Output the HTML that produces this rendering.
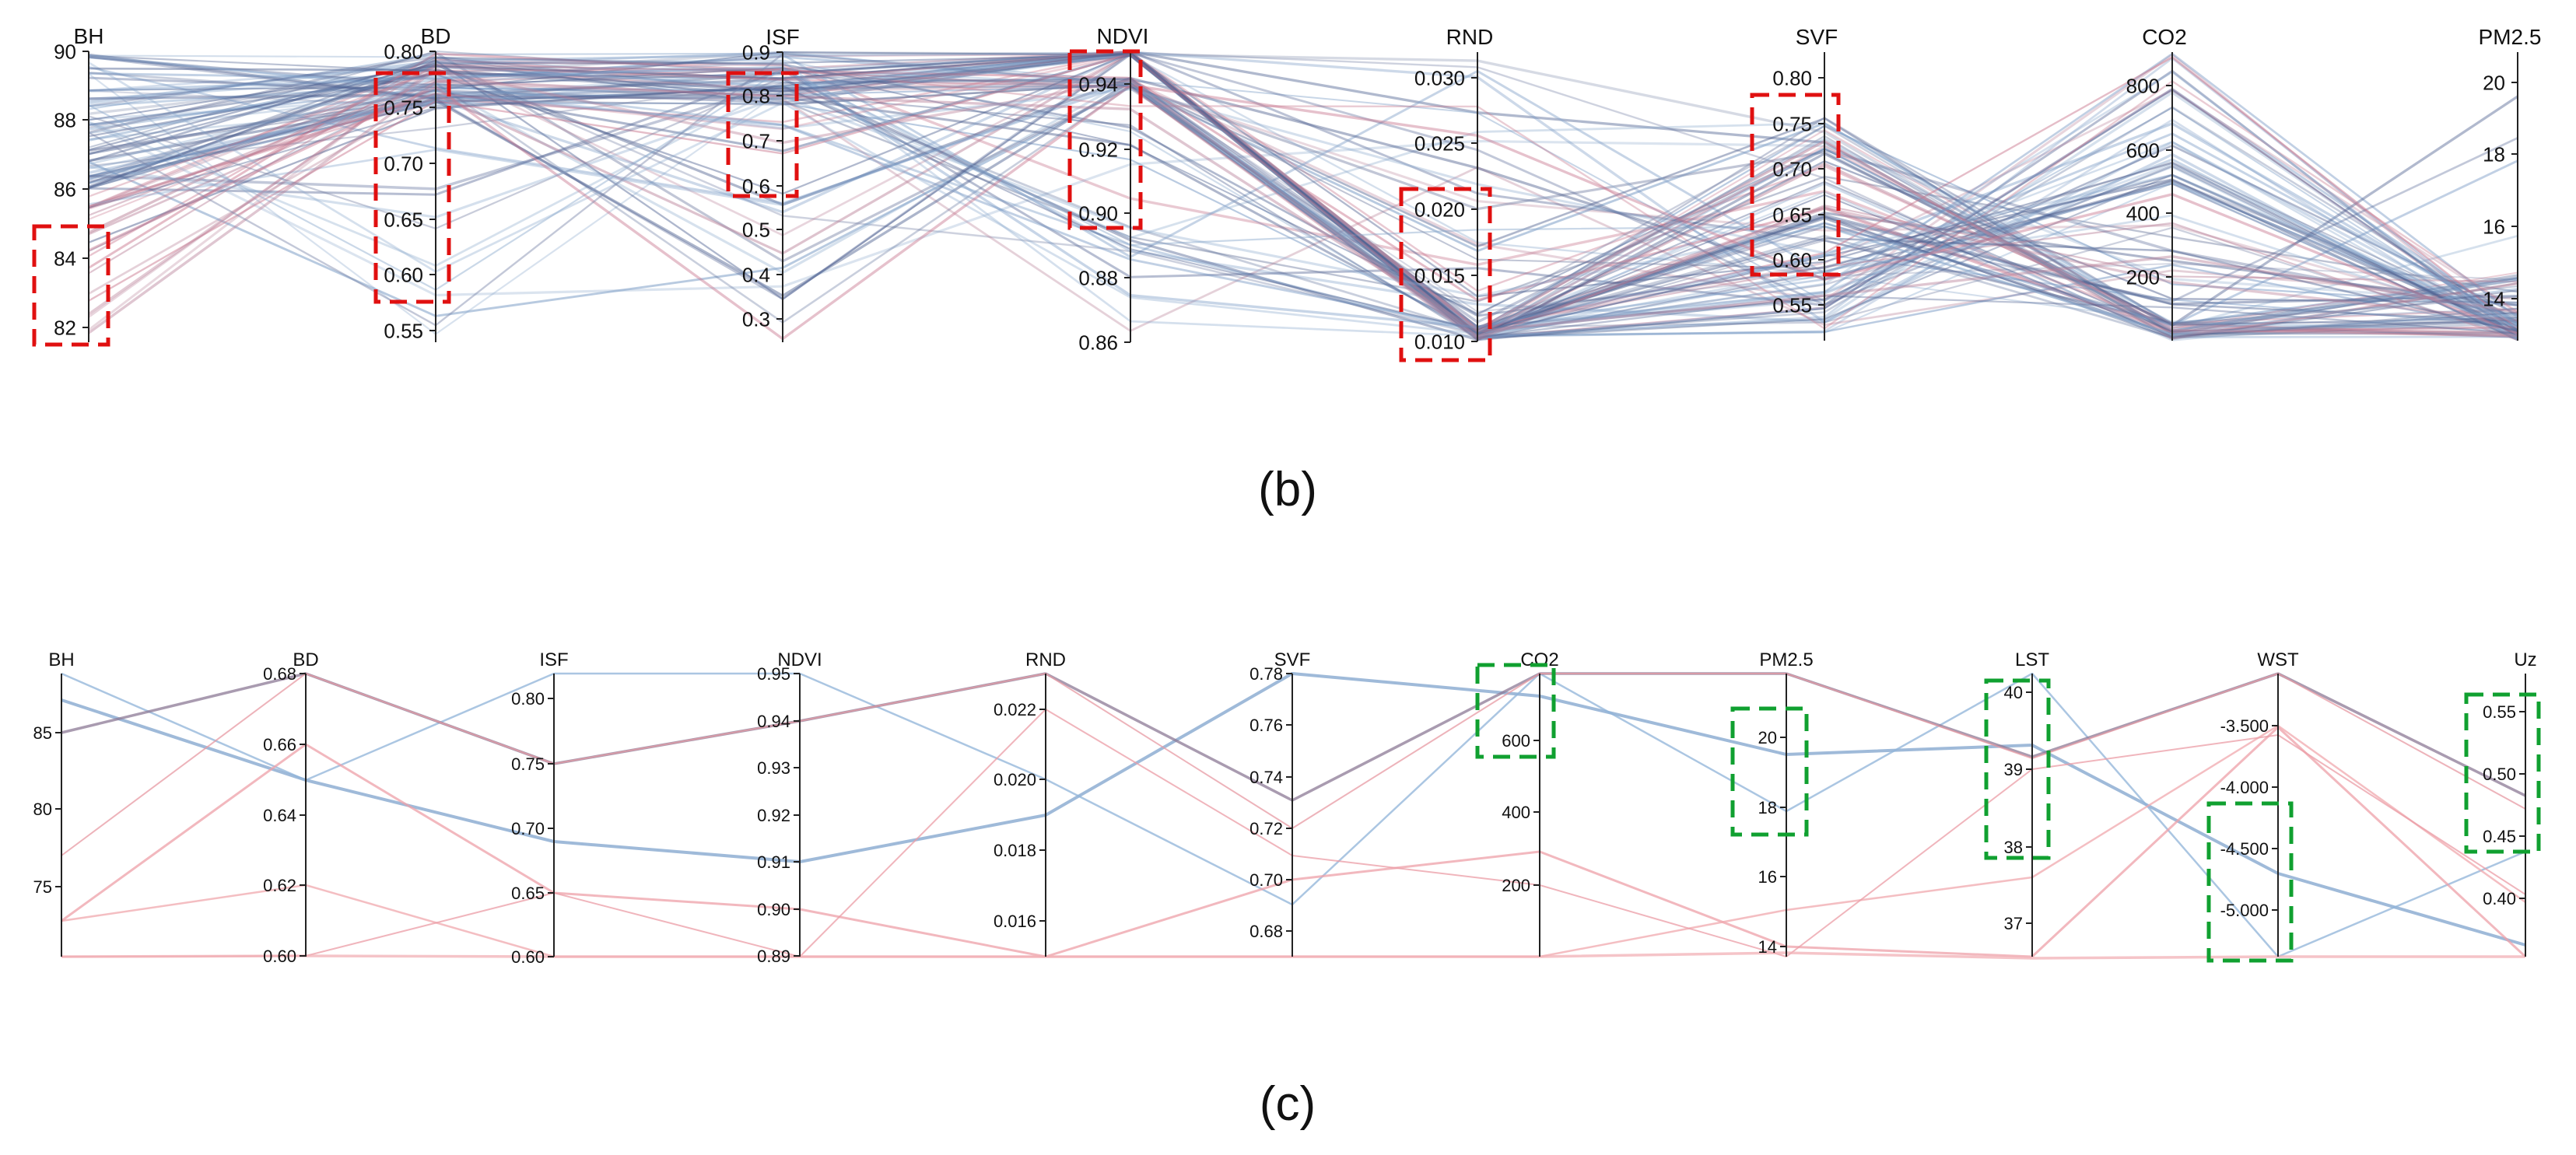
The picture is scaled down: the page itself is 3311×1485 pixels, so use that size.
<!DOCTYPE html>
<html><head><meta charset="utf-8"><style>
html,body{margin:0;padding:0;background:#fff;}
svg{display:block;}
text{font-family:"Liberation Sans Narrow","Liberation Sans",sans-serif;fill:#111;}
</style></head><body>
<svg id="s" width="3311" height="1485" viewBox="0 0 3311 1485" xmlns="http://www.w3.org/2000/svg">
<g id="linesTop" fill="none" stroke-linejoin="round"></g>
<g id="linesBot" fill="none" stroke-linejoin="round"></g>
<g id="axes" stroke="#222" stroke-width="2"></g>
<g id="labels"></g>
<g fill="none" stroke="#e01010" stroke-width="5" stroke-dasharray="22,12">
<rect x="44" y="291" width="95" height="152"/>
<rect x="483" y="94" width="94" height="294"/>
<rect x="936" y="94" width="88" height="158"/>
<rect x="1375" y="66" width="91" height="227"/>
<rect x="1801" y="243" width="114" height="220"/>
<rect x="2252" y="122" width="111" height="231"/>
</g>
<g fill="none" stroke="#10a030" stroke-width="5" stroke-dasharray="22,12">
<rect x="1899" y="855" width="98" height="118"/>
<rect x="2227" y="911" width="95" height="162"/>
<rect x="2553" y="875" width="80" height="228"/>
<rect x="2839" y="1033" width="106" height="202"/>
<rect x="3170" y="893" width="93" height="202"/>
</g>
<text x="1655" y="650" font-size="62" text-anchor="middle" style="font-family:'Liberation Sans',sans-serif">(b)</text>
<text x="1655" y="1440" font-size="62" text-anchor="middle" style="font-family:'Liberation Sans',sans-serif">(c)</text>
</svg>
<script>
var NS="http://www.w3.org/2000/svg";
function el(p,n,a,t){var e=document.createElementNS(NS,n);for(var k in a)e.setAttribute(k,a[k]);if(t!==undefined)e.textContent=t;p.appendChild(e);return e;}
var axes=document.getElementById('axes'),labels=document.getElementById('labels');
function axis(x,y0,y1,title,ticks,fs,gap,tx){
  el(axes,'line',{x1:x,y1:y0,x2:x,y2:y1});
  el(labels,'text',{x:x+tx,y:y0-10,'font-size':fs+2,'text-anchor':'middle'},title);
  ticks.forEach(function(t){el(axes,'line',{x1:x-8,y1:t[1],x2:x,y2:t[1]});
    el(labels,'text',{x:x-gap,y:t[1]+fs*0.36,'font-size':fs,'text-anchor':'end'},t[0]);});
}
// top panel
var TX=[114,560,1006,1453,1899,2345,2792,3236];
var F=26,G=16;
axis(114,66,440,'BH',[['90',66],['88',154],['86',243],['84',332],['82',421]],F,G,0);
axis(560,66,440,'BD',[['0.80',66],['0.75',138],['0.70',210],['0.65',282],['0.60',353],['0.55',425]],F,G,0);
axis(1006,67,440,'ISF',[['0.9',67],['0.8',123],['0.7',181],['0.6',239],['0.5',295],['0.4',353],['0.3',410]],F,G,0);
axis(1453,66,440,'NDVI',[['0.94',108],['0.92',192],['0.90',274],['0.88',357],['0.86',440]],F,G,-10);
axis(1899,67,439,'RND',[['0.030',100],['0.025',184],['0.020',269],['0.015',354],['0.010',439]],F,G,-10);
axis(2345,67,438,'SVF',[['0.80',100],['0.75',159],['0.70',217],['0.65',276],['0.60',334],['0.55',392]],F,G,-10);
axis(2792,67,438,'CO2',[['800',110],['600',193],['400',274],['200',356]],F,G,-10);
axis(3236,67,438,'PM2.5',[['20',106],['18',198],['16',291],['14',384]],F,G,-10);
// bottom panel
var BX=[79,393,712,1028,1344,1661,1979,2296,2612,2928,3246];
var y0=866,y1=1230;
axis(79,y0,y1,'BH',[['85',942],['80',1040],['75',1140]],22,12,0);
axis(393,y0,y1,'BD',[['0.68',866],['0.66',957],['0.64',1048],['0.62',1138],['0.60',1229]],22,12,0);
axis(712,y0,y1,'ISF',[['0.80',898],['0.75',982],['0.70',1065],['0.65',1148],['0.60',1230]],22,12,0);
axis(1028,y0,y1,'NDVI',[['0.95',866],['0.94',927],['0.93',987],['0.92',1048],['0.91',1108],['0.90',1169],['0.89',1229]],22,12,0);
axis(1344,y0,y1,'RND',[['0.022',912],['0.020',1002],['0.018',1093],['0.016',1184]],22,12,0);
axis(1661,y0,y1,'SVF',[['0.78',866],['0.76',932],['0.74',999],['0.72',1065],['0.70',1131],['0.68',1197]],22,12,0);
axis(1979,y0,y1,'CO2',[['600',952],['400',1044],['200',1138]],22,12,0);
axis(2296,y0,y1,'PM2.5',[['20',948],['18',1038],['16',1127],['14',1217]],22,12,0);
axis(2612,y0,y1,'LST',[['40',890],['39',989],['38',1089],['37',1187]],22,12,0);
axis(2928,y0,y1,'WST',[['-3.500',933],['-4.000',1012],['-4.500',1091],['-5.000',1170]],22,12,0);
axis(3246,y0,y1,'Uz',[['0.55',915],['0.50',995],['0.45',1075],['0.40',1155]],22,12,0);
// bottom lines
var lb=document.getElementById('linesBot');
var B=[
 ['#7fa3cc',4,[900,1003,1082,1108,1048,866,895,970,958,1123,1215]],
 ['#8fb3d8',2.5,[866,1003,866,866,1002,1163,866,1043,866,1230,1095]],
 ['#8c7a95',3.5,[942,866,982,927,866,1029,866,866,973,866,1023]],
 ['#e79aa3',2,[1100,866,982,927,866,1065,866,866,975,866,1040]],
 ['#eea0a8',3,[1184,957,1148,1169,1230,1131,1095,1217,1230,935,1230]],
 ['#f0a8ae',2.5,[1184,1138,1230,1230,1230,1230,1230,1170,1128,933,1160]],
 ['#eb9ca5',2,[1230,1229,1148,1230,912,1100,1138,1230,989,945,1150]],
 ['#f2b0b6',3.5,[1230,1229,1230,1230,1230,1230,1230,1225,1232,1230,1230]]
];
B.forEach(function(l){var p=l[2].map(function(y,i){return BX[i]+','+y}).join(' ');
 el(lb,'polyline',{points:p,stroke:l[0],'stroke-width':l[1],'stroke-opacity':0.75});});
// top lines
var seed=7;function r(){seed=(seed*16807)%2147483647;return (seed-1)/2147483646;}
function rg(a,b){return a+(b-a)*r();}
var lt=document.getElementById('linesTop');
for(var i=0;i<95;i++){
 var red=r()<0.2;
 var bh=red?rg(240,440):(r()<0.85?rg(66,250):rg(240,330));
 var bd=red?rg(66,130):(r()<0.82?rg(66,140):rg(150,430));
 var isf=r()<0.75?rg(67,135):rg(140,440);
 var nd=r()<0.45?rg(66,72):(r()<0.6?rg(100,115):rg(120,440));
 var rnd=r()<0.6?rg(420,439):rg(67,420);
 var svf=r()<0.35?rg(380,432):rg(150,380);
 var co=svf>320?(r()<0.8?rg(67,300):rg(300,420)):(r()<0.75?rg(415,438):rg(250,415));
 var pm=co<300?rg(400,438):(r()<0.85?rg(350,435):rg(67,330));
 var ys=[bh,bd,isf,nd,rnd,svf,co,pm];
 var cols=red?['#c9788f','#b98198']:['#6f93c0','#4d5f8f','#7b86a8','#8aa8cc','#5a6c98'];
 var c=cols[Math.floor(r()*cols.length)];
 el(lt,'polyline',{points:ys.map(function(y,k){return TX[k]+','+y.toFixed(1)}).join(' '),
  stroke:c,'stroke-width':rg(2,3.5).toFixed(1),'stroke-opacity':rg(0.3,0.5).toFixed(2)});
}
</script>
</body></html>
